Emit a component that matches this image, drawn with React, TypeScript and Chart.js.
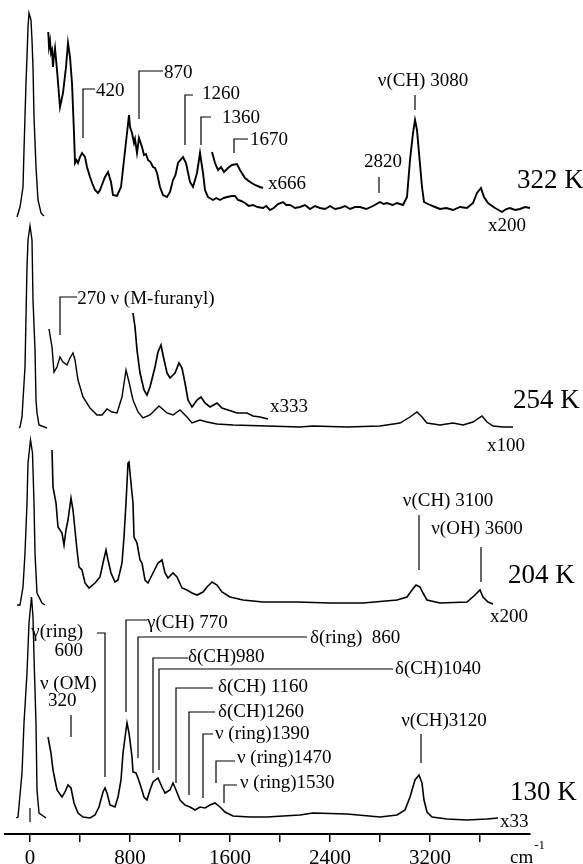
import { useEffect, useRef } from 'react';
import { Chart, registerables } from 'chart.js';

Chart.register(...registerables);

type Pt = [number, number];

// ---------- axis ----------
const X_MIN = -200;
const X_MAX = 4000;
const Y_MIN = 0;
const Y_MAX = 834;
const TICK_VALUES = [0, 400, 800, 1200, 1600, 2000, 2400, 2800, 3200, 3600];
const TICK_LABELS = ['0', '', '800', '', '1600', '', '2400', '', '3200', ''];
const X_UNIT = 'cm';
const X_UNIT_SUP = '-1';

// ---------- vertical offsets of the four spectra ----------
const OFFSET_322 = 617;
const OFFSET_254 = 406;
const OFFSET_204 = 229;
const OFFSET_130 = 16;

// ---------- 322 K ----------
const ELASTIC_322: Pt[] = [[-104, 0], [-80, 10], [-56, 30], [-48, 67], [-32, 134], [-24, 160], [-16, 190], [-8, 204], [8, 197], [16, 177], [24, 150], [32, 100], [48, 50], [64, 17], [88, 4], [112, 1]];
const TRACE_322_X200: Pt[] = [[146, 185], [152, 170], [160, 176], [168, 164], [176, 167], [184, 150], [192, 162], [200, 169], [216, 147], [240, 110], [264, 124], [288, 150], [304, 174], [320, 160], [336, 134], [352, 84], [360, 54], [372, 57], [384, 54], [400, 60], [416, 64], [440, 60], [456, 50], [480, 40], [500, 33], [520, 27], [544, 24], [560, 27], [600, 40], [624, 45], [648, 35], [664, 22], [696, 21], [728, 30], [752, 57], [776, 84], [792, 102], [800, 90], [816, 84], [832, 74], [840, 78], [856, 64], [872, 79], [896, 70], [912, 62], [928, 63], [944, 57], [964, 55], [984, 50], [1000, 49], [1016, 44], [1040, 30], [1064, 22], [1096, 20], [1120, 25], [1144, 37], [1164, 42], [1184, 54], [1224, 60], [1248, 54], [1280, 35], [1304, 30], [1336, 44], [1360, 64], [1384, 44], [1400, 27], [1424, 20], [1464, 17], [1490, 19], [1520, 17], [1550, 19], [1576, 20], [1616, 21], [1640, 21], [1664, 17], [1690, 16], [1720, 14], [1750, 11], [1784, 12], [1820, 10], [1864, 9], [1890, 11], [1920, 7], [1950, 9], [1984, 13], [2024, 15], [2050, 12], [2080, 12], [2120, 9], [2160, 10], [2200, 12], [2240, 8], [2280, 11], [2320, 9], [2360, 8], [2400, 11], [2440, 8], [2480, 9], [2520, 11], [2560, 8], [2600, 10], [2640, 10], [2690, 8], [2744, 11], [2800, 15], [2830, 13], [2856, 14], [2900, 12], [2936, 14], [2984, 12], [3016, 20], [3040, 57], [3064, 84], [3080, 97], [3096, 87], [3112, 64], [3136, 30], [3152, 15], [3200, 12], [3240, 10], [3280, 8], [3330, 9], [3384, 7], [3440, 10], [3496, 9], [3544, 14], [3576, 24], [3608, 29], [3632, 20], [3664, 14], [3720, 9], [3776, 5], [3810, 8], [3840, 9], [3880, 7], [3920, 8], [3960, 10], [4000, 9]];
const TRACE_322_X666: Pt[] = [[1456, 65], [1480, 54], [1504, 47], [1528, 50], [1552, 45], [1584, 49], [1616, 52], [1656, 53], [1680, 47], [1720, 39], [1760, 35], [1800, 32], [1840, 30], [1864, 29]];

// ---------- 254 K ----------
const ELASTIC_254: Pt[] = [[-88, 0], [-80, 1], [-64, 11], [-56, 28], [-40, 61], [-32, 111], [-24, 161], [-16, 188], [0, 202], [16, 188], [24, 128], [40, 78], [48, 28], [56, 15], [72, 3], [136, 0]];
const TRACE_254_X100: Pt[] = [[152, 99], [176, 81], [192, 56], [216, 61], [240, 71], [264, 66], [296, 63], [320, 70], [344, 75], [360, 68], [384, 48], [424, 31], [480, 20], [536, 13], [576, 13], [616, 19], [656, 16], [696, 15], [736, 31], [768, 58], [792, 46], [824, 28], [864, 16], [904, 10], [960, 13], [1032, 22], [1096, 15], [1144, 13], [1200, 18], [1256, 11], [1296, 5], [1360, 8], [1416, 6], [1496, 4], [1624, 3], [1896, 2], [2160, 1], [2264, 2], [2536, 1], [2800, 2], [2960, 5], [3040, 11], [3096, 16], [3136, 11], [3176, 5], [3280, 3], [3384, 5], [3464, 3], [3544, 6], [3616, 12], [3656, 6], [3704, 2], [3784, 1], [3864, 1]];
const TRACE_254_X333: Pt[] = [[824, 115], [840, 101], [856, 78], [880, 55], [912, 38], [936, 33], [960, 41], [1000, 61], [1024, 76], [1048, 83], [1064, 73], [1096, 55], [1120, 50], [1160, 55], [1192, 65], [1216, 60], [1240, 45], [1264, 28], [1296, 21], [1336, 28], [1368, 31], [1400, 25], [1440, 21], [1496, 25], [1536, 20], [1584, 18], [1656, 15], [1736, 15], [1784, 12], [1840, 11], [1904, 9]];

// ---------- 204 K ----------
const ELASTIC_204: Pt[] = [[-104, 0], [-80, 0], [-56, 18], [-40, 52], [-24, 102], [-16, 142], [4, 165], [20, 152], [32, 102], [40, 52], [56, 12], [96, 2], [120, 0]];
const TRACE_204_X200: Pt[] = [[176, 155], [184, 118], [208, 102], [224, 78], [256, 72], [272, 60], [288, 75], [304, 85], [328, 107], [344, 95], [360, 75], [376, 55], [392, 38], [416, 35], [440, 22], [472, 17], [520, 22], [560, 28], [584, 42], [608, 55], [624, 45], [648, 32], [680, 23], [704, 25], [736, 42], [752, 68], [768, 102], [784, 142], [792, 143], [808, 122], [824, 102], [832, 68], [856, 62], [880, 45], [896, 42], [920, 25], [944, 22], [984, 32], [1024, 42], [1056, 45], [1080, 32], [1104, 27], [1144, 32], [1176, 28], [1216, 17], [1256, 15], [1296, 12], [1336, 10], [1384, 13], [1416, 18], [1456, 23], [1496, 20], [1536, 13], [1600, 8], [1704, 5], [1864, 3], [2136, 3], [2400, 2], [2664, 2], [2936, 5], [3016, 8], [3056, 15], [3088, 20], [3120, 18], [3144, 12], [3176, 5], [3280, 2], [3496, 3], [3560, 10], [3600, 15], [3624, 8], [3664, 3], [3704, 1]];

// ---------- 130 K ----------
const ELASTIC_130: Pt[] = [[-110, 0], [-96, 1], [-64, 45], [-48, 95], [-24, 145], [-8, 195], [12, 221], [24, 201], [32, 161], [48, 95], [56, 28], [72, 5], [128, 0]];
const TRACE_130_X33: Pt[] = [[144, 81], [168, 65], [184, 48], [216, 28], [256, 21], [280, 26], [304, 33], [328, 30], [352, 15], [384, 5], [424, 1], [480, 0], [520, 3], [552, 11], [584, 26], [600, 30], [616, 25], [640, 13], [680, 11], [704, 21], [728, 38], [744, 65], [768, 88], [776, 95], [792, 85], [816, 61], [824, 46], [848, 45], [864, 40], [888, 31], [912, 21], [936, 18], [960, 28], [984, 36], [1024, 40], [1056, 31], [1080, 25], [1120, 28], [1144, 35], [1168, 28], [1200, 18], [1240, 13], [1280, 11], [1320, 8], [1360, 11], [1400, 10], [1440, 13], [1480, 15], [1520, 11], [1560, 6], [1624, 2], [1760, 1], [1896, 1], [2024, 2], [2160, 3], [2264, 5], [2536, 4], [2800, 1], [2936, 3], [3000, 8], [3040, 21], [3080, 38], [3112, 43], [3136, 35], [3152, 18], [3176, 6], [3216, 1], [3336, -1], [3496, -2], [3656, -1], [3744, 0]];

// ---------- annotations: x in cm-1, y in plot units ----------
type Bracket = { x: number; y0: number; y1: number; hx?: number; text?: string; tx?: number; ty?: number; align?: CanvasTextAlign };
const BRACKETS: Bracket[] = [
  { x: 424, y0: 696, y1: 745, hx: 520, text: '420', tx: 528, ty: 743 },
  { x: 872, y0: 715, y1: 763, hx: 1064, text: '870', tx: 1072, ty: 761 },
  { x: 1240, y0: 689, y1: 739, hx: 1304, text: '1260', tx: 1376, ty: 740 },
  { x: 1368, y0: 689, y1: 717, hx: 1448, text: '1360', tx: 1536, ty: 716 },
  { x: 1632, y0: 681, y1: 695, hx: 1744, text: '1670', tx: 1760, ty: 694 },
  { x: 3080, y0: 724, y1: 739, text: 'ν(CH) 3080', tx: 3144, ty: 753, align: 'center' },
  { x: 2792, y0: 641, y1: 657, text: '2820', tx: 2824, ty: 672, align: 'center' },
  { x: 240, y0: 499, y1: 537, hx: 376, text: '270 ν (M-furanyl)', tx: 378, ty: 535 },
  { x: 3112, y0: 264, y1: 319, text: 'ν(CH) 3100', tx: 3344, ty: 333, align: 'center' },
  { x: 3608, y0: 252, y1: 287, text: 'ν(OH) 3600', tx: 3576, ty: 305, align: 'center' },
  { x: 600, y0: 57, y1: 201, hx: 536, text: 'γ(ring)', tx: 424, ty: 202, align: 'right' },
  { x: 328, y0: 97, y1: 119, text: 'ν (OM)', tx: 80, ty: 150, align: 'left' },
  { x: 768, y0: 122, y1: 214, hx: 936, text: 'γ(CH) 770', tx: 936, ty: 211 },
  { x: 864, y0: 76, y1: 197, hx: 2216, text: 'δ(ring)  860', tx: 2240, ty: 196 },
  { x: 984, y0: 61, y1: 176, hx: 1264, text: 'δ(CH)980', tx: 1264, ty: 177 },
  { x: 1032, y0: 64, y1: 165, hx: 2904, text: 'δ(CH)1040', tx: 2920, ty: 165 },
  { x: 1168, y0: 51, y1: 146, hx: 1464, text: 'δ(CH) 1160', tx: 1504, ty: 147 },
  { x: 1272, y0: 39, y1: 122, hx: 1480, text: 'δ(CH)1260', tx: 1504, ty: 122 },
  { x: 1384, y0: 36, y1: 100, hx: 1464, text: 'ν (ring)1390', tx: 1480, ty: 100 },
  { x: 1488, y0: 51, y1: 73, hx: 1640, text: 'ν (ring)1470', tx: 1656, ty: 76 },
  { x: 1552, y0: 31, y1: 49, hx: 1656, text: 'ν (ring)1530', tx: 1680, ty: 51 },
  { x: 3128, y0: 71, y1: 100, text: 'ν(CH)3120', tx: 3312, ty: 113, align: 'center' },
  { x: 0, y0: 12, y1: 26 },
];

type Label = { text: string; x: number; y: number; size: number; align?: CanvasTextAlign };
const LABELS: Label[] = [
  { text: '600', x: 424, y: 183, size: 19, align: 'right' },
  { text: '320', x: 144, y: 133, size: 19 },
  { text: 'x666', x: 1904, y: 650, size: 19 },
  { text: 'x200', x: 3664, y: 608, size: 19 },
  { text: 'x333', x: 1920, y: 427, size: 19 },
  { text: 'x100', x: 3656, y: 388, size: 19 },
  { text: 'x200', x: 3680, y: 217, size: 19 },
  { text: 'x33', x: 3760, y: 12, size: 19 },
  { text: '322 K', x: 3896, y: 653, size: 27 },
  { text: '254 K', x: 3864, y: 433, size: 27 },
  { text: '204 K', x: 3824, y: 258, size: 27 },
  { text: '130 K', x: 3840, y: 41, size: 27 },
];

const FONT = '"Liberation Serif", "Times New Roman", serif';

const shift = (pts: Pt[], off: number) => pts.map(([x, y]) => ({ x, y: y + off }));

const annotationPlugin = {
  id: 'spectraAnnotations',
  afterDatasetsDraw(chart: any) {
    const { ctx, scales, chartArea } = chart;
    const xs = scales.x;
    const ys = scales.y;
    ctx.save();
    ctx.strokeStyle = '#000';
    ctx.fillStyle = '#000';
    ctx.lineWidth = 1.2;
    ctx.textBaseline = 'middle';
    ctx.font = `19px ${FONT}`;
    for (const b of BRACKETS) {
      const px = xs.getPixelForValue(b.x);
      ctx.beginPath();
      ctx.moveTo(px, ys.getPixelForValue(b.y0));
      ctx.lineTo(px, ys.getPixelForValue(b.y1));
      if (b.hx !== undefined) ctx.lineTo(xs.getPixelForValue(b.hx), ys.getPixelForValue(b.y1));
      ctx.stroke();
      if (b.text) {
        ctx.textAlign = b.align ?? 'left';
        ctx.fillText(b.text, xs.getPixelForValue(b.tx!), ys.getPixelForValue(b.ty!));
      }
    }
    for (const l of LABELS) {
      ctx.font = `${l.size}px ${FONT}`;
      ctx.textAlign = l.align ?? 'left';
      ctx.fillText(l.text, xs.getPixelForValue(l.x), ys.getPixelForValue(l.y));
    }
    // axis unit
    const ux = xs.getPixelForValue(3840);
    ctx.textAlign = 'left';
    ctx.font = `19px ${FONT}`;
    ctx.fillText(X_UNIT, ux, chartArea.bottom + 24);
    const w = ctx.measureText(X_UNIT).width;
    ctx.font = `13px ${FONT}`;
    ctx.fillText(X_UNIT_SUP, ux + w + 1, chartArea.bottom + 12);
    ctx.restore();
  },
};

export default function App() {
  const ref = useRef<HTMLCanvasElement | null>(null);
  useEffect(() => {
    document.body.style.margin = '0';
    const canvas = ref.current;
    if (!canvas) return;
    const mk = (pts: Pt[], off: number, w = 1.4) => ({
      data: shift(pts, off),
      borderColor: '#000',
      borderWidth: w,
      pointRadius: 0,
      tension: 0,
      fill: false,
      clip: false as any,
    });
    const chart = new Chart(canvas, {
      type: 'line',
      data: {
        datasets: [
          mk(ELASTIC_322, OFFSET_322),
          mk(TRACE_322_X200, OFFSET_322, 1.9),
          mk(TRACE_322_X666, OFFSET_322, 1.9),
          mk(ELASTIC_254, OFFSET_254),
          mk(TRACE_254_X100, OFFSET_254),
          mk(TRACE_254_X333, OFFSET_254, 1.7),
          mk(ELASTIC_204, OFFSET_204),
          mk(TRACE_204_X200, OFFSET_204, 1.6),
          mk(ELASTIC_130, OFFSET_130),
          mk(TRACE_130_X33, OFFSET_130, 1.6),
        ] as any,
      },
      options: {
        responsive: false,
        animation: false,
        devicePixelRatio: 1,
        layout: { padding: { left: 5, right: 53, top: 0, bottom: 0 } },
        plugins: { legend: { display: false }, tooltip: { enabled: false } },
        scales: {
          x: {
            type: 'linear',
            min: X_MIN,
            max: X_MAX,
            afterBuildTicks: (s: any) => {
              s.ticks = TICK_VALUES.map((v) => ({ value: v }));
            },
            afterFit: (s: any) => {
              s.height = 30;
            },
            grid: { drawOnChartArea: false, drawTicks: true, tickLength: 8, color: '#000', lineWidth: 1.5 },
            border: { display: true, color: '#000', width: 2 },
            ticks: {
              autoSkip: false,
              maxRotation: 0,
              padding: 4,
              color: '#000',
              font: { family: FONT, size: 21 },
              callback: (_v: any, i: number) => TICK_LABELS[i] ?? '',
            },
          },
          y: { type: 'linear', min: Y_MIN, max: Y_MAX, display: false },
        },
      },
      plugins: [annotationPlugin],
    });
    return () => chart.destroy();
  }, []);
  return <canvas ref={ref} width={583} height={864} style={{ display: 'block' }} />;
}
